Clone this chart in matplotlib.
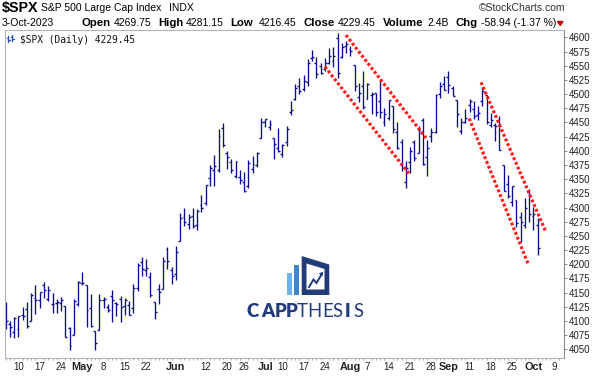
import numpy as np
import pandas as pd
import matplotlib
matplotlib.use('Agg')
from matplotlib import pyplot as plt
from matplotlib.patches import Polygon, Rectangle

# daily OHLC, $SPX
dates = ['2023-04-04', '2023-04-05', '2023-04-06', '2023-04-10', '2023-04-11', '2023-04-12', '2023-04-13',
         '2023-04-14', '2023-04-17', '2023-04-18', '2023-04-19', '2023-04-20', '2023-04-21', '2023-04-24',
         '2023-04-25', '2023-04-26', '2023-04-27', '2023-04-28', '2023-05-01', '2023-05-02', '2023-05-03',
         '2023-05-04', '2023-05-05', '2023-05-08', '2023-05-09', '2023-05-10', '2023-05-11', '2023-05-12',
         '2023-05-15', '2023-05-16', '2023-05-17', '2023-05-18', '2023-05-19', '2023-05-22', '2023-05-23',
         '2023-05-24', '2023-05-25', '2023-05-26', '2023-05-30', '2023-05-31', '2023-06-01', '2023-06-02',
         '2023-06-05', '2023-06-06', '2023-06-07', '2023-06-08', '2023-06-09', '2023-06-12', '2023-06-13',
         '2023-06-14', '2023-06-15', '2023-06-16', '2023-06-20', '2023-06-21', '2023-06-22', '2023-06-23',
         '2023-06-26', '2023-06-27', '2023-06-28', '2023-06-29', '2023-06-30', '2023-07-03', '2023-07-05',
         '2023-07-06', '2023-07-07', '2023-07-10', '2023-07-11', '2023-07-12', '2023-07-13', '2023-07-14',
         '2023-07-17', '2023-07-18', '2023-07-19', '2023-07-20', '2023-07-21', '2023-07-24', '2023-07-25',
         '2023-07-26', '2023-07-27', '2023-07-28', '2023-07-31', '2023-08-01', '2023-08-02', '2023-08-03',
         '2023-08-04', '2023-08-07', '2023-08-08', '2023-08-09', '2023-08-10', '2023-08-11', '2023-08-14',
         '2023-08-15', '2023-08-16', '2023-08-17', '2023-08-18', '2023-08-21', '2023-08-22', '2023-08-23',
         '2023-08-24', '2023-08-25', '2023-08-28', '2023-08-29', '2023-08-30', '2023-08-31', '2023-09-01',
         '2023-09-05', '2023-09-06', '2023-09-07', '2023-09-08', '2023-09-11', '2023-09-12', '2023-09-13',
         '2023-09-14', '2023-09-15', '2023-09-18', '2023-09-19', '2023-09-20', '2023-09-21', '2023-09-22',
         '2023-09-25', '2023-09-26', '2023-09-27', '2023-09-28', '2023-09-29', '2023-10-02', '2023-10-03']

opens = [4128.03, 4094.50, 4081.15, 4085.20, 4110.29, 4121.72, 4100.04, 4140.11, 4137.17, 4164.26,
         4139.33, 4130.48, 4132.14, 4132.07, 4126.43, 4087.78, 4075.29, 4129.63, 4166.79, 4164.10,
         4122.25, 4082.61, 4084.73, 4136.98, 4124.25, 4143.74, 4132.24, 4138.54, 4126.65, 4127.95,
         4122.85, 4157.68, 4204.15, 4190.78, 4176.80, 4132.96, 4155.71, 4156.16, 4226.71, 4190.74,
         4183.03, 4241.01, 4282.99, 4271.34, 4285.47, 4268.69, 4304.88, 4308.32, 4352.61, 4366.29,
         4365.33, 4440.95, 4396.11, 4380.01, 4355.40, 4354.17, 4344.84, 4337.36, 4367.48, 4374.94,
         4422.44, 4450.48, 4442.04, 4422.62, 4404.54, 4394.23, 4415.55, 4467.69, 4491.50, 4514.61,
         4508.86, 4521.78, 4563.87, 4554.38, 4550.16, 4543.39, 4555.19, 4558.96, 4598.26, 4565.75,
         4584.82, 4578.83, 4550.93, 4494.27, 4513.96, 4491.58, 4498.03, 4501.57, 4487.16, 4450.69,
         4458.13, 4478.87, 4433.79, 4416.32, 4344.88, 4380.28, 4415.33, 4396.44, 4455.16, 4389.38,
         4426.03, 4432.75, 4500.34, 4517.01, 4530.60, 4510.06, 4490.35, 4434.55, 4451.30, 4480.98,
         4473.27, 4462.65, 4487.78, 4497.98, 4445.13, 4445.41, 4452.81, 4374.36, 4341.74, 4310.62,
         4312.88, 4282.63, 4269.65, 4328.18, 4284.52, 4269.75]

highs = [4133.13, 4099.69, 4107.32, 4109.50, 4124.26, 4134.37, 4150.26, 4163.19, 4151.72, 4169.48,
         4162.57, 4148.57, 4138.02, 4142.41, 4126.43, 4089.67, 4138.24, 4170.06, 4186.92, 4164.10,
         4148.30, 4082.61, 4147.02, 4142.30, 4130.35, 4154.28, 4132.80, 4143.74, 4141.25, 4135.54,
         4164.67, 4202.20, 4212.91, 4209.22, 4185.68, 4132.96, 4165.74, 4212.87, 4231.10, 4195.44,
         4232.43, 4290.67, 4299.28, 4288.33, 4299.19, 4298.01, 4322.62, 4340.13, 4375.37, 4391.82,
         4439.20, 4448.47, 4400.15, 4386.22, 4382.25, 4366.55, 4362.06, 4384.42, 4390.35, 4398.39,
         4458.48, 4456.46, 4454.06, 4422.62, 4440.39, 4412.60, 4443.64, 4488.34, 4517.38, 4527.76,
         4532.85, 4562.30, 4578.43, 4564.74, 4555.00, 4563.41, 4580.62, 4582.47, 4607.07, 4590.16,
         4594.22, 4584.62, 4550.93, 4519.49, 4540.34, 4519.84, 4503.31, 4502.44, 4527.37, 4476.23,
         4490.33, 4478.87, 4449.95, 4421.17, 4381.82, 4407.55, 4418.59, 4443.18, 4458.30, 4418.46,
         4439.56, 4500.14, 4521.65, 4532.26, 4541.25, 4514.29, 4490.35, 4457.81, 4473.53, 4490.77,
         4487.11, 4479.39, 4511.99, 4497.98, 4466.36, 4449.85, 4461.03, 4375.70, 4357.40, 4338.51,
         4313.01, 4292.07, 4317.27, 4333.15, 4300.58, 4281.15]

lows = [4086.87, 4072.56, 4069.84, 4072.55, 4102.61, 4086.94, 4099.40, 4113.20, 4123.18, 4140.36,
        4134.49, 4114.57, 4113.86, 4117.77, 4071.38, 4049.35, 4075.29, 4127.18, 4164.12, 4089.72,
        4088.86, 4048.28, 4084.73, 4123.81, 4116.65, 4098.92, 4109.29, 4099.12, 4110.27, 4109.86,
        4113.62, 4153.50, 4180.20, 4179.68, 4142.54, 4103.98, 4129.73, 4156.16, 4192.18, 4166.15,
        4171.64, 4241.01, 4266.82, 4263.09, 4263.96, 4261.07, 4291.70, 4304.37, 4337.66, 4337.85,
        4362.60, 4407.44, 4367.19, 4360.14, 4351.82, 4341.34, 4328.08, 4335.00, 4360.22, 4371.97,
        4422.44, 4442.29, 4436.61, 4385.05, 4397.40, 4389.92, 4408.46, 4463.23, 4489.36, 4499.56,
        4504.90, 4514.59, 4557.48, 4527.56, 4535.79, 4541.29, 4552.42, 4547.58, 4528.56, 4564.01,
        4573.14, 4567.53, 4505.75, 4485.54, 4474.55, 4491.15, 4464.39, 4461.33, 4457.92, 4443.98,
        4453.44, 4432.19, 4403.55, 4364.83, 4335.31, 4360.30, 4382.77, 4396.44, 4375.55, 4356.29,
        4414.98, 4431.68, 4493.59, 4507.39, 4501.35, 4496.01, 4442.38, 4430.46, 4448.38, 4467.89,
        4456.83, 4453.52, 4478.69, 4447.21, 4442.11, 4416.61, 4401.38, 4329.17, 4316.49, 4302.70,
        4265.98, 4238.63, 4264.38, 4274.86, 4260.21, 4216.45]

closes = [4100.60, 4090.38, 4105.02, 4109.11, 4108.94, 4091.95, 4146.22, 4137.64, 4151.32, 4154.87,
          4154.52, 4129.79, 4133.52, 4137.04, 4071.63, 4055.99, 4135.35, 4169.48, 4167.87, 4119.58,
          4090.75, 4061.22, 4136.25, 4138.12, 4119.17, 4137.64, 4130.62, 4124.08, 4136.28, 4109.90,
          4158.77, 4198.05, 4191.98, 4192.63, 4145.58, 4115.24, 4151.28, 4205.45, 4205.52, 4179.83,
          4221.02, 4282.37, 4273.79, 4283.85, 4267.52, 4293.93, 4298.86, 4338.93, 4369.01, 4372.59,
          4425.84, 4409.59, 4388.71, 4365.69, 4381.89, 4348.33, 4328.82, 4378.41, 4376.86, 4396.44,
          4450.38, 4455.59, 4446.82, 4411.59, 4398.95, 4409.53, 4439.26, 4472.16, 4510.04, 4505.42,
          4522.79, 4554.98, 4565.72, 4534.87, 4536.34, 4554.64, 4567.46, 4566.75, 4537.41, 4582.23,
          4588.96, 4576.73, 4513.39, 4501.89, 4478.03, 4518.44, 4499.38, 4467.71, 4468.83, 4464.05,
          4489.72, 4437.86, 4404.33, 4370.36, 4369.71, 4399.77, 4387.55, 4436.01, 4376.31, 4405.71,
          4433.31, 4497.63, 4514.87, 4507.66, 4515.77, 4496.83, 4465.48, 4451.14, 4457.49, 4487.46,
          4461.90, 4467.44, 4505.10, 4450.32, 4453.53, 4443.95, 4402.20, 4330.00, 4320.06, 4337.44,
          4273.53, 4274.51, 4299.70, 4288.05, 4288.39, 4229.45]

tick_dates = ['2023-04-10', '2023-04-17', '2023-04-24', '2023-05-01', '2023-05-08', '2023-05-15',
              '2023-05-22', '2023-06-01', '2023-06-12', '2023-06-20', '2023-06-26', '2023-07-03',
              '2023-07-10', '2023-07-17', '2023-07-24', '2023-08-01', '2023-08-07', '2023-08-14',
              '2023-08-21', '2023-08-28', '2023-09-01', '2023-09-11', '2023-09-18', '2023-09-25',
              '2023-10-02', '2023-10-09']
tick_labels = ['10', '17', '24', 'May', '8', '15', '22', 'Jun', '12', '20', '26', 'Jul', '10', '17',
               '24', 'Aug', '7', '14', '21', '28', 'Sep', '11', '18', '25', 'Oct', '9']
price_ticks = list(range(4050, 4601, 25))

# hand drawn channels: (start bar, start price, end bar, end price)
channels = [(79.95, 4604.0, 98.75, 4422.6),
            (75.0, 4548.2, 94.83, 4359.0),
            (111.7, 4520.7, 126.9, 4257.4),
            (108.9, 4457.0, 122.8, 4200.0)]

navy = '#0c0c8c'
W, H = 596, 377
fig = plt.figure(figsize=(W / 100, H / 100), dpi=100)
fig.patch.set_facecolor('white')

# main price axes (pixel box 4.7..563.5 x 30..358)
ax = fig.add_axes([4.7 / W, 1 - 358 / H, (563.5 - 4.7) / W, (358 - 30) / H])
x = np.arange(len(dates))
ax.vlines(x, lows, highs, color=navy, lw=0.95)
ax.hlines(opens, x - 0.45, x, color=navy, lw=1.0)
ax.hlines(closes, x, x + 0.45, color=navy, lw=1.0)

for x0, y0, x1, y1 in channels:
    ax.plot([x0, x1], [y0, y1], color='#ff1a1a', lw=2.3, linestyle=(0, (0.9, 0.7)),
            solid_capstyle='butt', dash_capstyle='butt')

ax.set_xlim(-0.235, 131.06)
ax.set_ylim(4034.9, 4612.9)

all_days = dates + [d.strftime('%Y-%m-%d') for d in pd.bdate_range('2023-10-04', periods=10)]
ax.set_xticks([all_days.index(d) for d in tick_dates])
ax.set_xticklabels(tick_labels, fontsize=7, family='Liberation Sans', color='#222222')
for lbl in ax.get_xticklabels():
    if not lbl.get_text().isdigit():
        lbl.set_fontweight('bold')
        lbl.set_fontsize(7.8)
ax.tick_params(axis='x', length=0, pad=3)
ax.set_xticks(np.arange(0, 131, 1), minor=True)
ax.tick_params(axis='x', which='minor', length=1.5, color='#999999', width=0.6, direction='out')

ax.yaxis.tick_right()
ax.set_yticks(price_ticks)
ax.set_yticklabels([str(p) for p in price_ticks], fontsize=7, family='Liberation Sans', color='#222222')
ax.tick_params(axis='y', length=2.5, width=0.6, color='#777777', pad=1.5)
for side in ['left', 'top', 'bottom', 'right']:
    ax.spines[side].set_color('#b4b4b4')
    ax.spines[side].set_linewidth(0.8)
ax.spines['right'].set_color('#888888')

# legend inside the plot
ax.text(0.028, 0.985, '$SPX (Daily) 4229.45', transform=ax.transAxes, ha='left', va='top',
        fontsize=6.9, family='DejaVu Sans Mono', color='#111111')

# overlay in pixel coords for header and logo
ov = fig.add_axes([0, 0, 1, 1], zorder=5)
ov.set_xlim(0, W)
ov.set_ylim(H, 0)
ov.axis('off')

ov.text(2, 12, '$SPX', fontsize=10.3, fontweight='bold', family='Liberation Sans', va='baseline')
ov.text(41, 11.4, 'S&P 500 Large Cap Index', fontsize=7.5, family='Liberation Sans', va='baseline')
ov.text(169, 11.4, 'INDX', fontsize=7.5, family='Liberation Sans', va='baseline')
ov.text(565, 11.4, '\u00a9StockCharts.com', fontsize=7.5, family='Liberation Sans', va='baseline',
        ha='right', color='#333333')

hdr = [('3-Oct-2023', 2, 'normal'), ('Open', 82, 'bold'), ('4269.75', 114, 'normal'),
       ('High', 158, 'bold'), ('4281.15', 186, 'normal'), ('Low', 230, 'bold'),
       ('4216.45', 259, 'normal'), ('Close', 303, 'bold'), ('4229.45', 338, 'normal'),
       ('Volume', 383, 'bold'), ('2.4B', 427, 'normal'), ('Chg', 456, 'bold'),
       ('-58.94 (-1.37 %)', 481, 'normal')]
for s, xp, fw in hdr:
    ov.text(xp, 25.9, s, fontsize=8.2 if fw == 'bold' else 7.5, fontweight=fw,
            family='Liberation Sans', va='baseline')
ov.add_patch(Polygon([(557.5, 21.5), (563, 21.5), (560.25, 25.5)], closed=True, color='#cc0000'))

# legend glyph (tiny bars icon)
for gx, gy0, gy1 in [(8, 35.5, 42), (12, 34.5, 40.5)]:
    ov.plot([gx, gx], [gy0, gy1], color='#2a4fb0', lw=0.9)
    ov.plot([gx - 1.5, gx], [gy0 + 2, gy0 + 2], color='#2a4fb0', lw=0.9)
    ov.plot([gx, gx + 1.5], [gy1 - 2, gy1 - 2], color='#2a4fb0', lw=0.9)

# CAPPTHESIS logo
logo_navy = '#223c7a'
ov.add_patch(Rectangle((287.3, 272.7), 4.7, 22.3, color='#6db3e8', lw=0))
ov.add_patch(Rectangle((294.0, 265.0), 5.3, 30.0, color='#3f86cf', lw=0))
ov.add_patch(Polygon([(301.7, 256), (329.3, 264.5), (329.3, 295), (301.7, 295)], closed=True,
                     color=logo_navy, lw=0))
ov.add_patch(Polygon([(306.5, 263.5), (324.5, 269.0), (324.5, 289.5), (306.5, 289.5)], closed=True,
                     color='white', lw=0))
ov.plot([309, 313.5, 316.5, 321.5], [287, 279.5, 283, 274.5], color=logo_navy, lw=1.4,
        solid_joinstyle='miter')
ov.add_patch(Polygon([(323.3, 271.8), (318.8, 273.2), (322.4, 276.6)], closed=True, color=logo_navy, lw=0))

letters = [('C', 253.0, 'heavy'), ('A', 267.5, 'heavy'), ('P', 280.8, 'heavy'), ('P', 291.7, 'heavy'),
           ('T', 302.5, 'normal'), ('H', 314.7, 'normal'), ('E', 327.2, 'normal'), ('S', 337.5, 'normal'),
           ('I', 348.0, 'heavy'), ('S', 358.8, 'normal')]
for ch, xp, fw in letters:
    ov.text(xp, 316.7, ch, fontsize=13.4, fontweight=fw, family='Lato', color=logo_navy,
            ha='center', va='baseline')

fig.savefig('out.png', dpi=100)
